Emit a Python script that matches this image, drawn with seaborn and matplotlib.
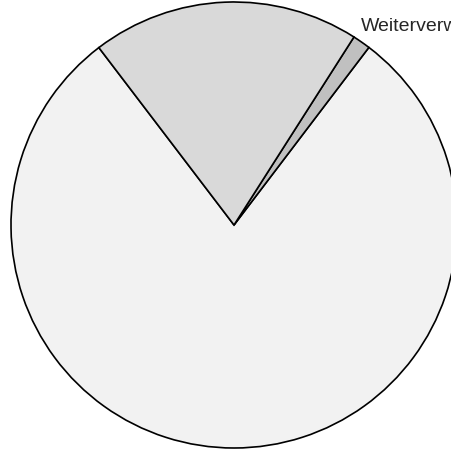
import matplotlib
matplotlib.use("Agg")
import matplotlib.pyplot as plt
import seaborn as sns

# shares (%), in drawing order
labels = ["Sonstige", "Weiterverwendung", "Verwertung"]
shares = [79.3, 1.3, 19.4]
colors = ["#f2f2f2", "#c0c0c0", "#d9d9d9"]

sns.set_style("white")
plt.rcParams['font.family'] = ['Liberation Sans', 'DejaVu Sans']

fig = plt.figure(figsize=(4.52, 4.52), dpi=100)
ax = fig.add_axes([11 / 452, 3 / 452, 446 / 452, 446 / 452])

wedges, _ = ax.pie(shares, colors=colors, startangle=127.3, counterclock=True,
                   wedgeprops={'edgecolor': 'black', 'linewidth': 1.2})
ax.set_xlim(-1, 1)
ax.set_ylim(-1, 1)
ax.set_aspect('equal')
ax.axis('off')

# only the small slice carries a visible label, outside the pie
ax.text(0.568, 0.876, labels[1], ha='left', va='baseline', fontsize=14, clip_on=False)

fig.savefig('out.png', dpi=100)
